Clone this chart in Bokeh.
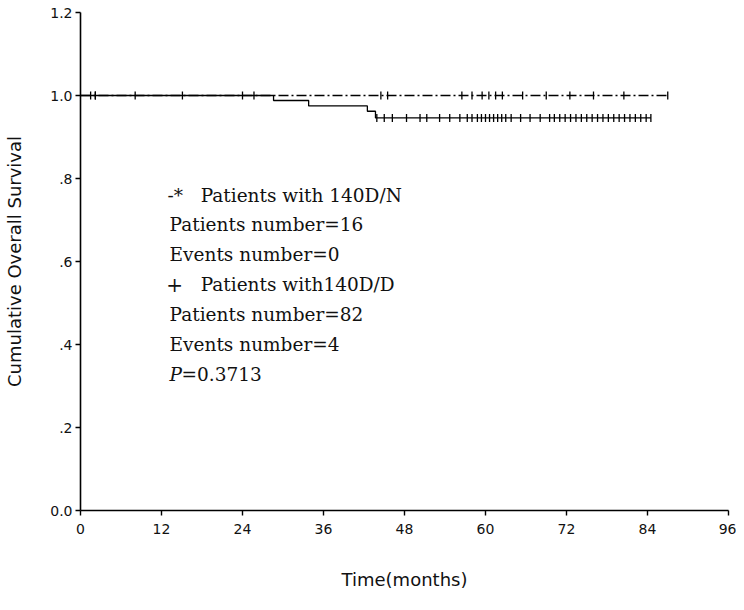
import numpy as np
from bokeh.plotting import figure
from bokeh.models import Label, FixedTicker
from bokeh.embed import file_html
from bokeh.resources import INLINE

# ---- data ----
# Group 140D/N: 16 patients, 0 events (survival stays at 1.0)
dn_step_t = [0, 87]
dn_step_s = [1.0, 1.0]
dn_cens_t = [1.5, 2.2, 44.5, 45.5, 56.5, 58, 59.5, 60.5, 61.5, 62.5, 65.5, 69, 72.5, 76, 80.5, 87]

# Group 140D/D: 82 patients, 4 events
dd_event_t = [0, 28.6, 33.8, 42.5, 43.7]
dd_event_s = [1.0, 0.988, 0.975, 0.962, 0.946]
dd_end_t = 84.5
dd_cens_t = [2.2, 8.1, 15.1, 24.0, 25.7,
             43.9, 45.0, 46.2, 48.3, 50.3, 51.3, 53.2, 54.7, 56.2, 57.3, 58.0, 58.8,
             59.4, 60.0, 60.6, 61.2, 61.8, 62.4, 63.0, 63.8, 65.2, 66.6, 68.1, 69.5,
             70.2, 71.0, 71.8, 72.6, 73.4, 74.2, 75.0, 75.8, 76.6, 77.4, 78.2, 79.0,
             79.8, 80.6, 81.4, 82.2, 83.0, 83.8, 84.5]

x_ticks = [0, 12, 24, 36, 48, 60, 72, 84, 96]
y_ticks = [0.0, 0.2, 0.4, 0.6, 0.8, 1.0, 1.2]
y_tick_labels = ["0.0", ".2", ".4", ".6", ".8", "1.0", "1.2"]

legend_lines = ["Patients number=16", "Events number=0",
                "Patients number=82", "Events number=4"]

# ---- helpers ----
def step_xy(ts, ss, t_end):
    xs, ys = [], []
    for i, (t, s) in enumerate(zip(ts, ss)):
        if i > 0:
            xs.append(t); ys.append(ss[i - 1])
        xs.append(t); ys.append(s)
    xs.append(t_end); ys.append(ss[-1])
    return xs, ys

def surv_at(t, ts, ss):
    val = ss[0]
    for ti, si in zip(ts, ss):
        if t >= ti:
            val = si
    return val

p = figure(width=736, height=594, x_range=(0, 96), y_range=(0, 1.2),
           output_backend="svg", toolbar_location=None,
           min_border_left=80, min_border_right=8, min_border_top=12, min_border_bottom=84)
p.outline_line_color = None
p.xgrid.visible = False
p.ygrid.visible = False
p.background_fill_color = "white"
p.border_fill_color = "white"

# 140D/N dash-dot line
p.line(dn_step_t, dn_step_s, line_color="black", line_width=1.3, line_dash="10 3 2 3")
p.scatter(dn_cens_t, [surv_at(t, dn_step_t, dn_step_s) for t in dn_cens_t],
          marker="dash", angle=np.pi / 2, size=8, line_color="black", line_width=1.3)

# 140D/D solid step line
sx, sy = step_xy(dd_event_t, dd_event_s, dd_end_t)
p.line(sx, sy, line_color="black", line_width=1.3)
p.scatter(dd_cens_t, [surv_at(t, dd_event_t, dd_event_s) for t in dd_cens_t],
          marker="dash", angle=np.pi / 2, size=8, line_color="black", line_width=1.3)

# axes
for ax in (p.xaxis[0], p.yaxis[0]):
    ax.axis_line_width = 1.6
    ax.axis_line_color = "black"
    ax.major_tick_line_color = "black"
    ax.major_tick_line_width = 1.4
    ax.major_tick_in = 0
    ax.major_tick_out = 5
    ax.minor_tick_line_color = None
    ax.major_label_text_font = "DejaVu Sans"
    ax.major_label_text_font_size = "14px"
    ax.major_label_text_color = "#111111"
    ax.axis_label_text_font = "DejaVu Sans"
    ax.axis_label_text_font_size = "18px"
    ax.axis_label_text_font_style = "normal"
    ax.axis_label_text_color = "#111111"

p.xaxis.ticker = FixedTicker(ticks=x_ticks)
p.yaxis.ticker = FixedTicker(ticks=y_ticks)
p.yaxis.major_label_overrides = {t: l for t, l in zip(y_ticks, y_tick_labels)}
p.xaxis.axis_label = "Time(months)"
p.yaxis.axis_label = "Cumulative Overall Survival"
p.yaxis.major_label_standoff = 3
p.xaxis.major_label_standoff = 8
p.yaxis.axis_label_standoff = 22
p.xaxis.axis_label_standoff = 32

# legend-like annotation block
serif = "DejaVu Serif"
fs = "18.5px"
ys_leg = [0.760, 0.688, 0.616, 0.544, 0.472, 0.400, 0.328]
def lab(x, y, text, style="normal", x_offset=0, size=fs):
    p.add_layout(Label(x=x, y=y, text=text, text_font=serif, text_font_size=size,
                       text_font_style=style, text_baseline="middle", text_align="left",
                       text_color="#111111", x_offset=x_offset))

lab(12.9, ys_leg[0], "-*")
lab(17.8, ys_leg[0], "Patients with 140D/N")
lab(13.2, ys_leg[1], legend_lines[0])
lab(13.2, ys_leg[2], legend_lines[1])
lab(12.7, ys_leg[3], "+", size="20px")
lab(17.8, ys_leg[3], "Patients with140D/D")
lab(13.2, ys_leg[4], legend_lines[2])
lab(13.2, ys_leg[5], legend_lines[3])
lab(13.2, ys_leg[6], "P", style="italic")
lab(13.2, ys_leg[6], "=0.3713", x_offset=12)

open("out.html", "w").write(file_html(p, INLINE))
